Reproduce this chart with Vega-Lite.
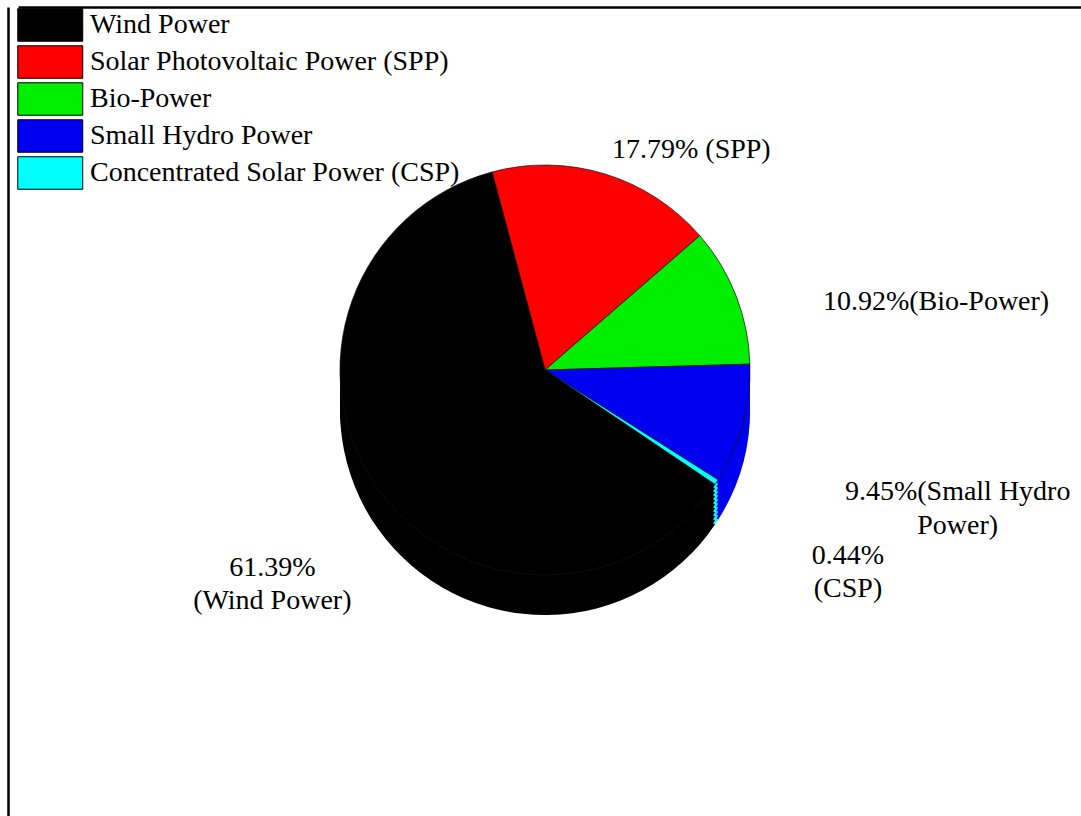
{
  "$schema": "https://vega.github.io/schema/vega-lite/v6.json",
  "width": 1063,
  "height": 809,
  "autosize": {"type": "none"},
  "padding": {"left": 18, "top": 7, "right": 0, "bottom": 0},
  "background": "white",
  "config": {
    "view": {"stroke": "transparent", "strokeWidth": 0},
    "font": "Liberation Serif"
  },
  "data": {
    "values": [
      {"source": "Solar Photovoltaic Power (SPP)", "share": 17.79, "seq": 1, "label": "17.79%  (SPP)"},
      {"source": "Bio-Power", "share": 10.92, "seq": 2, "label": "10.92%(Bio-Power)"},
      {"source": "Small Hydro Power", "share": 9.45, "seq": 3, "label": "9.45%(Small Hydro\nPower)"},
      {"source": "Concentrated Solar Power (CSP)", "share": 0.44, "seq": 4, "label": "0.44%\n(CSP)"},
      {"source": "Wind Power", "share": 61.39, "seq": 5, "label": "61.39%\n(Wind Power)"}
    ]
  },
  "layer": [
    {
      "mark": {"type": "point", "opacity": 0},
      "encoding": {
        "x": {"field": "share", "type": "quantitative", "axis": {"orient": "top", "domain": true, "domainColor": "black", "domainWidth": 2.5, "ticks": false, "labels": false, "grid": false, "title": null}},
        "y": {"field": "seq", "type": "quantitative", "axis": {"orient": "left", "offset": 10, "domain": true, "domainColor": "black", "domainWidth": 2.5, "ticks": false, "labels": false, "grid": false, "title": null}}
      }
    },
    {
      "encoding": {
        "theta": {"field": "share", "type": "quantitative", "stack": true, "scale": {"range": [-0.2618, 6.0214]}},
        "order": {"field": "seq", "type": "quantitative"},
        "color": {
          "field": "source",
          "type": "nominal",
          "scale": {
            "domain": ["Wind Power", "Solar Photovoltaic Power (SPP)", "Bio-Power", "Small Hydro Power", "Concentrated Solar Power (CSP)"],
            "range": ["#000000", "#ff0000", "#00ee00", "#0000f0", "#00ffff"]
          },
          "legend": {
            "title": null,
            "orient": "none",
            "legendX": -1,
            "legendY": 1,
            "padding": 0,
            "symbolType": "M-1,-1H3V1H-1Z",
            "symbolSize": 1056,
            "symbolStrokeColor": "black",
            "symbolStrokeWidth": 1,
            "symbolOpacity": 1,
            "labelFont": "Liberation Serif",
            "labelFontSize": 28,
            "labelColor": "black",
            "labelOffset": 39,
            "labelLimit": 700,
            "rowPadding": -1
          }
        }
      },
      "layer": [
        {"mark": {"type": "arc", "outerRadius": 205, "xOffset": -4.5, "yOffset": -1.5}},
        {"mark": {"type": "arc", "outerRadius": 205, "xOffset": -4.5, "yOffset": -5.5}},
        {"mark": {"type": "arc", "outerRadius": 205, "xOffset": -4.5, "yOffset": -9.5}},
        {"mark": {"type": "arc", "outerRadius": 205, "xOffset": -4.5, "yOffset": -13.5}},
        {"mark": {"type": "arc", "outerRadius": 205, "xOffset": -4.5, "yOffset": -17.5}},
        {"mark": {"type": "arc", "outerRadius": 205, "xOffset": -4.5, "yOffset": -21.5}},
        {"mark": {"type": "arc", "outerRadius": 205, "xOffset": -4.5, "yOffset": -25.5}},
        {"mark": {"type": "arc", "outerRadius": 205, "xOffset": -4.5, "yOffset": -29.5}},
        {"mark": {"type": "arc", "outerRadius": 205, "xOffset": -4.5, "yOffset": -33.5}},
        {"mark": {"type": "arc", "outerRadius": 205, "xOffset": -4.5, "yOffset": -37.5}},
        {"mark": {"type": "arc", "outerRadius": 205, "xOffset": -4.5, "yOffset": -41.5, "stroke": "#111111", "strokeWidth": 0.7}},
        {
          "mark": {"type": "text", "radius": 230, "dx": 79, "xOffset": -4.5, "yOffset": -41.5, "align": "center", "baseline": "middle", "fontSize": 28, "font": "Liberation Serif", "lineBreak": "\n", "lineHeight": 33},
          "encoding": {
            "text": {"condition": {"test": "datum.source === 'Solar Photovoltaic Power (SPP)'", "field": "label", "type": "nominal"}, "value": ""},
            "color": {"value": "black"}
          }
        },
        {
          "mark": {"type": "text", "radius": 192, "dx": 99, "dy": 2, "xOffset": -4.5, "yOffset": -41.5, "align": "left", "baseline": "middle", "fontSize": 28, "font": "Liberation Serif", "lineBreak": "\n", "lineHeight": 33},
          "encoding": {
            "text": {"condition": {"test": "datum.source === 'Bio-Power'", "field": "label", "type": "nominal"}, "value": ""},
            "color": {"value": "black"}
          }
        },
        {
          "mark": {"type": "text", "radius": 428, "dy": 8, "xOffset": -4.5, "yOffset": -41.5, "align": "center", "baseline": "middle", "fontSize": 28, "font": "Liberation Serif", "lineBreak": "\n", "lineHeight": 34},
          "encoding": {
            "text": {"condition": {"test": "datum.source === 'Small Hydro Power'", "field": "label", "type": "nominal"}, "value": ""},
            "color": {"value": "black"}
          }
        },
        {
          "mark": {"type": "text", "radius": 362, "dy": -12, "xOffset": -4.5, "yOffset": -41.5, "align": "center", "baseline": "middle", "fontSize": 28, "font": "Liberation Serif", "lineBreak": "\n", "lineHeight": 33},
          "encoding": {
            "text": {"condition": {"test": "datum.source === 'Concentrated Solar Power (CSP)'", "field": "label", "type": "nominal"}, "value": ""},
            "color": {"value": "black"}
          }
        },
        {
          "mark": {"type": "text", "radius": 335, "dy": 3, "xOffset": -4.5, "yOffset": -41.5, "align": "center", "baseline": "middle", "fontSize": 28, "font": "Liberation Serif", "lineBreak": "\n", "lineHeight": 33},
          "encoding": {
            "text": {"condition": {"test": "datum.source === 'Wind Power'", "field": "label", "type": "nominal"}, "value": ""},
            "color": {"value": "black"}
          }
        }
      ]
    }
  ]
}
